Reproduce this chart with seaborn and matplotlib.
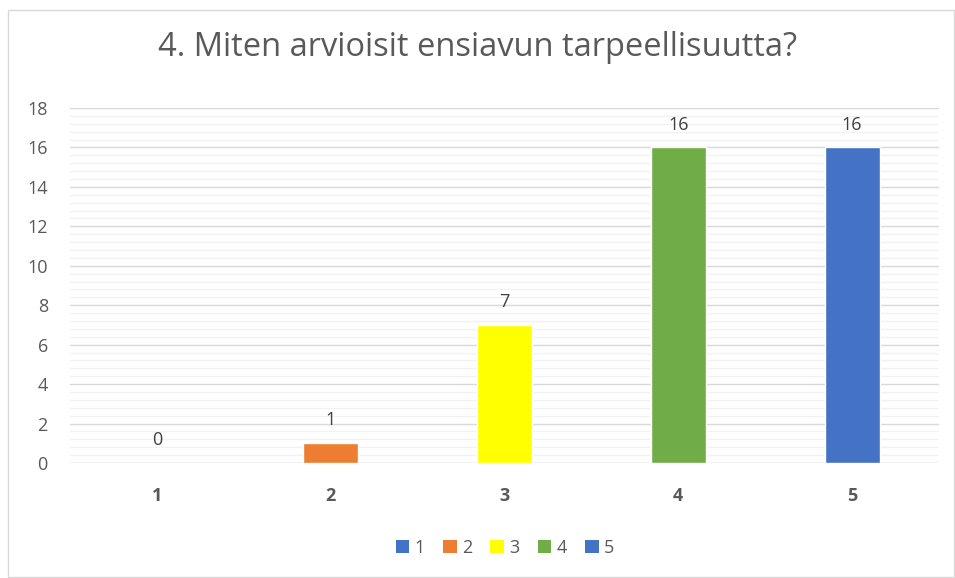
import matplotlib.pyplot as plt
import seaborn as sns
import pandas as pd
from matplotlib.patches import Patch, Rectangle
from matplotlib.ticker import MultipleLocator

# data
categories = ["1", "2", "3", "4", "5"]
values = [0, 1, 7, 16, 16]
colors = ["#4472C4", "#ED7D31", "#FFFF00", "#70AD47", "#4472C4"]
title = "4. Miten arvioisit ensiavun tarpeellisuutta?"

df = pd.DataFrame({"answer": categories, "count": values})

sns.set_style("white")
plt.rcParams["font.family"] = ["Open Sans", "DejaVu Sans"]

fig = plt.figure(figsize=(9.55, 5.78), dpi=100)
ax = fig.add_axes([70 / 955, 115 / 578, 869 / 955, 355 / 578])

sns.barplot(data=df, x="answer", y="count", hue="answer", palette=colors,
            saturation=1, width=0.316, legend=False, ax=ax, zorder=3)

ax.set_ylim(0, 18)
ax.set_xlim(-0.5, 4.5)
ax.yaxis.set_major_locator(MultipleLocator(2))
ax.yaxis.set_minor_locator(MultipleLocator(0.4))
ax.grid(axis="y", which="major", color="#D9D9D9", linewidth=1.0, zorder=0)
ax.grid(axis="y", which="minor", color="#F2F2F2", linewidth=1.0, zorder=0)
ax.set_axisbelow(True)
for s in ax.spines.values():
    s.set_visible(False)
ax.axhline(0, color="#D9D9D9", linewidth=1.0, zorder=2)

ax.tick_params(axis="both", which="both", length=0)
ax.tick_params(axis="y", labelsize=13, labelcolor="#595959", pad=16)
ax.tick_params(axis="x", labelsize=13, labelcolor="#595959", pad=17)
for lbl in ax.get_xticklabels():
    lbl.set_fontweight("bold")
ax.set_xlabel("")
ax.set_ylabel("")

for i, v in enumerate(values):
    ax.annotate(str(v), (i, v), xytext=(0, 10), textcoords="offset points",
                ha="center", va="bottom", fontsize=13, color="#404040")

fig.text(0.5, 1 - 48 / 578, title, ha="center", va="center",
         fontsize=23.5, color="#595959")

handles = [Patch(facecolor=c, edgecolor="none") for c in colors]
fig.legend(handles, categories, loc="center", ncol=5,
           bbox_to_anchor=(505 / 955, 1 - 548 / 578), frameon=False,
           fontsize=13, labelcolor="#595959", handlelength=0.75,
           handleheight=0.75, handletextpad=0.3, columnspacing=1.0)

# chart border
fig.patches.append(Rectangle((8 / 955, 1 / 578), 946 / 955, 567 / 578,
                             transform=fig.transFigure, fill=False,
                             edgecolor="#D9D9D9", linewidth=1.0))

fig.savefig("out.png", dpi=100)
